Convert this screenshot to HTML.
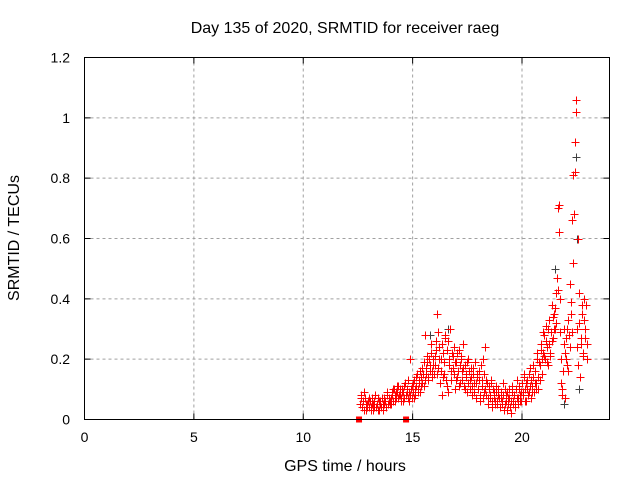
<!DOCTYPE html>
<html><head><meta charset="utf-8"><style>
body{margin:0;background:#fff}
svg{display:block;font-family:"Liberation Sans",sans-serif;font-size:14px}
.big{font-size:16px}
</style></head><body>
<svg id="chart" width="640" height="480">
<rect width="640" height="480" fill="#fff"/>
<g id="grid"></g>
<g id="ticks"></g>
<g id="marks"></g>
<rect x="84.5" y="57.5" width="525" height="362" fill="none" stroke="#000"/>
<text class="big" x="345" y="33" text-anchor="middle">Day 135 of 2020, SRMTID for receiver raeg</text>
<text class="big" x="345" y="471" text-anchor="middle">GPS time / hours</text>
<text class="big" transform="translate(19,238) rotate(-90)" text-anchor="middle">SRMTID / TECUs</text>
</svg>
<script>
const xTicks=[0,5,10,15,20];
const yTicks=[0,0.2,0.4,0.6,0.8,1,1.2];
const yTickLabels=["0","0.2","0.4","0.6","0.8","1","1.2"];
const seriesA=[0.05,0.07,0.04,0.06,0.09,0.03,0.05,0.06,
0.04,0.06,0.03,0.07,0.05,0.04,0.08,0.05,0.03,0.06,0.05,0.04,0.07,0.03,0.05,0.06,0.04,0.08,0.06,0.05,
0.07,0.09,0.06,0.1,0.08,0.07,0.09,0.11,0.08,0.06,0.1,0.09,0.07,0.12,0.08,0.1,0.07,0.09,0.2,0.11,
0.09,0.13,0.08,0.11,0.15,0.1,0.12,0.09,0.14,0.17,0.11,0.28,0.15,0.19,0.13,0.2,0.16,0.22,0.14,0.18,
0.21,0.26,0.35,0.17,0.24,0.12,0.2,0.08,0.22,0.15,0.28,0.11,0.26,0.18,0.3,0.13,0.22,0.17,0.24,0.1,
0.19,0.14,0.23,0.12,0.2,0.16,0.25,0.11,0.18,0.14,0.09,0.2,0.13,0.17,0.08,0.15,0.12,0.19,0.07,0.14,
0.1,0.16,0.06,0.13,0.2,0.09,0.24,0.08,0.12,0.05,0.1,0.07,0.13,0.04,0.09,0.06,0.11,0.05,0.08,0.07,
0.04,0.09,0.06,0.12,0.05,0.08,0.03,0.07,0.1,0.04,0.06,0.11,0.05,0.08,0.04,0.13,0.07,0.1,0.06,0.09,
0.12,0.08,0.15,0.1,0.06,0.13,0.09,0.17,0.07,0.11,0.14,0.09,0.16,0.12,0.2,0.1,0.18,0.25,0.15,0.22,
0.28,0.2,0.31,0.24,0.18,0.33,0.22,0.38,0.27,0.35,0.3,0.42,0.47,0.7,0.71,0.4,0.12,0.08,0.25,0.07,
0.2,0.3,0.16,0.28,0.45,0.35,0.66,0.81,0.92,1.06,0.24,0.6,0.32,0.14,0.27,0.38,0.22,0.4,0.3,0.2];
const seriesB=[0.08,0.04,0.06,0.03,0.07,0.05,0.04,0.06,
0.07,0.04,0.05,0.03,0.06,0.08,0.04,0.05,0.07,0.03,0.06,0.04,0.05,0.07,0.06,0.04,0.09,0.05,0.07,0.06,
0.05,0.08,0.1,0.06,0.09,0.11,0.07,0.08,0.1,0.07,0.09,0.06,0.11,0.08,0.09,0.13,0.06,0.08,0.1,0.07,
0.12,0.07,0.1,0.14,0.09,0.13,0.16,0.11,0.12,0.15,0.19,0.13,0.17,0.21,0.14,0.18,0.25,0.16,0.2,0.15,
0.18,0.23,0.15,0.29,0.2,0.16,0.25,0.14,0.19,0.27,0.13,0.23,0.09,0.2,0.3,0.16,0.21,0.15,0.19,0.13,
0.22,0.16,0.11,0.18,0.21,0.13,0.17,0.1,0.15,0.19,0.12,0.16,0.1,0.14,0.11,0.17,0.09,0.12,0.15,0.1,
0.13,0.08,0.18,0.11,0.07,0.15,0.1,0.13,0.07,0.11,0.08,0.12,0.06,0.1,0.07,0.05,0.09,0.06,0.1,0.04,
0.07,0.05,0.08,0.03,0.1,0.06,0.09,0.05,0.07,0.02,0.09,0.06,0.08,0.05,0.1,0.07,0.05,0.11,0.08,0.06,
0.09,0.14,0.06,0.12,0.1,0.08,0.15,0.11,0.13,0.09,0.18,0.12,0.1,0.22,0.14,0.19,0.13,0.23,0.2,0.29,
0.21,0.26,0.19,0.3,0.25,0.21,0.29,0.26,0.34,0.3,0.37,0.32,0.43,0.62,0.29,0.2,0.1,0.16,0.3,0.22,
0.27,0.18,0.33,0.24,0.39,0.29,0.52,0.68,0.82,1.02,0.3,0.18,0.42,0.25,0.35,0.21,0.33,0.27,0.38,0.25];
const grayTimes=[15.8,16.6,18.3,21.5,22.45,22.5,22.6,21.9];
const grayValues=[0.28,0.3,0.24,0.5,0.87,0.6,0.1,0.05];
const squareTimes=[12.55,14.7];
const squareValues=[0,0];
const startA=12.6, startB=12.625, stepT=0.05;

const X0=84.5,X1=609.5,Y0=419.5,Y1=57.5,XMAX=24,YMAX=1.2;
const xs=t=>X0+(X1-X0)*t/XMAX;
const ys=v=>Y0-(Y0-Y1)*v/YMAX;
const NS="http://www.w3.org/2000/svg";
function mk(tag,attrs,parent){const e=document.createElementNS(NS,tag);for(const k in attrs)e.setAttribute(k,attrs[k]);parent.appendChild(e);return e;}
const grid=document.getElementById('grid'),ticks=document.getElementById('ticks'),marks=document.getElementById('marks');
xTicks.forEach((t,i)=>{
  const x=xs(t);
  if(t>0){const g=mk('line',{x1:x,x2:x,y1:Y0,y2:Y1,stroke:'#a0a0a0','stroke-dasharray':'3,3'},grid);
  
  }
  const tk=mk('path',{d:`M${x},${Y0}v-6M${x},${Y1}v6`,stroke:'#000'},ticks);
  
  
  const l=mk('text',{x:x,y:442,'text-anchor':'middle'},ticks);l.textContent=String(t);
  
  
});
yTicks.forEach((v,i)=>{
  const y=ys(v);
  if(v>0&&v<YMAX){const g=mk('line',{x1:X0,x2:X1,y1:y,y2:y,stroke:'#a0a0a0','stroke-dasharray':'3,3'},grid);
  
  }
  const tk=mk('path',{d:`M${X0},${y}h6M${X1},${y}h-6`,stroke:'#000'},ticks);
  
  
  const l=mk('text',{x:70,y:y+5,'text-anchor':'end'},ticks);l.textContent=yTickLabels[i];
  
  
});
function plus(t,v,color,name){
  const x=Math.round(xs(t))+0.5,y=Math.round(ys(v))+0.5;
  const p=mk('path',{d:`M${x-4},${y}h8M${x},${y-4}v8`,stroke:color,'stroke-width':1},marks);
  
  
}
grayTimes.forEach((t,i)=>plus(t,grayValues[i],'#404040','gray-point'));
seriesA.forEach((v,i)=>plus(startA+i*stepT,v,'#ff0000','red-point'));
seriesB.forEach((v,i)=>plus(startB+i*stepT,v,'#ff0000','red-point'));
squareTimes.forEach((t,i)=>{
  const s=mk('rect',{x:xs(t)-3,y:ys(squareValues[i])-3,width:6,height:6,fill:'#ff0000'},marks);
  
  
});
</script>
</body></html>
